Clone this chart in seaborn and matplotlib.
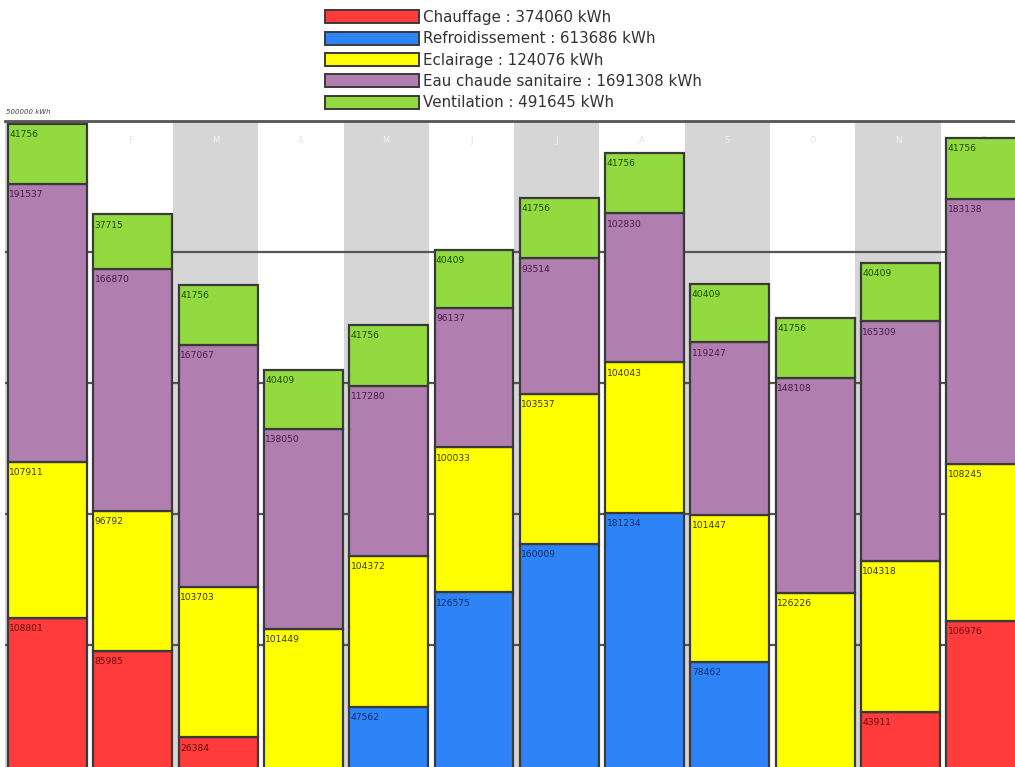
import numpy as np
import pandas as pd
import matplotlib
matplotlib.use("Agg")
import matplotlib.pyplot as plt
from matplotlib.patches import Patch
import seaborn as sns

# ---------------- data ----------------
months = ["Janvier", "Février", "Mars", "Avril", "Mai", "Juin",
          "Juillet", "Août", "Septembre", "Octobre", "Novembre", "Décembre"]
month_initials = ["J", "F", "M", "A", "M", "J", "J", "A", "S", "O", "N", "D"]

chauffage = [108801, 85985, 26384, 0, 0, 0, 0, 0, 0, 0, 43911, 106976]
refroidissement = [0, 0, 0, 0, 47562, 126575, 160009, 181234, 78462, 0, 0, 0]
eclairage = [107911, 96792, 103703, 101449, 104372, 100033, 103537, 104043, 101447, 126226, 104318, 108245]
eau_chaude = [191537, 166870, 167067, 138050, 117280, 96137, 93514, 102830, 119247, 148108, 165309, 183138]
ventilation = [41756, 37715, 41756, 40409, 41756, 40409, 41756, 41756, 40409, 41756, 40409, 41756]

series_names = ["Chauffage", "Refroidissement", "Eclairage", "Eau chaude sanitaire", "Ventilation"]
series_totals = [374060, 613686, 124076, 1691308, 491645]
axis_label = "500000 kWh"

# ---------------- style ----------------
fill_colors = ["#FF3B3B", "#2E84F7", "#FFFF00", "#B07FB0", "#93DA40"]
text_colors = ["#6A0A0A", "#0B2A66", "#3A3A00", "#4A1A4A", "#1E4A00"]
EDGE = "#3A3A3A"
GRAY_COL = "#D6D6D6"
YMAX = 452100

sns.set_theme(style="white")
plt.rcParams["font.family"] = ["DejaVu Sans"]

W, H = 1015, 767
fig = plt.figure(figsize=(W / 100, H / 100), dpi=100)
fig.patch.set_facecolor("white")

ax_top_px, ax_bot_px = 120.7, 775.7
col_w_px = 85.3
shift = 0.03  # bars sit slightly right inside their column
left_px = 2.3 + shift * col_w_px
ax = fig.add_axes([left_px / W, (H - ax_bot_px) / H,
                   12 * col_w_px / W, (ax_bot_px - ax_top_px) / H])
ax.set_facecolor("white")

# alternating column shading
for i in range(len(months)):
    if i % 2 == 0:
        ax.axvspan(i - 0.5 - shift, i + 0.5 - shift, color=GRAY_COL, lw=0, zorder=0)

series = [chauffage, refroidissement, eclairage, eau_chaude, ventilation]
df = pd.DataFrame({"month": months})
bottom = np.zeros(len(months))
bar_w = 0.925
for name, vals, fc, tc in zip(series_names, series, fill_colors, text_colors):
    vals = np.asarray(vals, dtype=float)
    df[name] = vals
    sns.barplot(data=df, x="month", y=name, order=months, color=fc,
                saturation=1, width=bar_w, bottom=bottom, edgecolor=EDGE,
                linewidth=1.6, ax=ax, zorder=3, errorbar=None)
    for i, v in enumerate(vals):
        if v > 0:
            ax.annotate(f"{int(v)}", xy=(i - bar_w / 2, bottom[i] + v),
                        xytext=(1.0, -4.5), textcoords="offset points",
                        ha="left", va="top", fontsize=6.6, color=tc, zorder=5)
    bottom = bottom + vals

# faint month initials at top of each column
for i, m in enumerate(month_initials):
    ax.text(i - shift, 0.97, m, transform=ax.get_xaxis_transform(), ha="center",
            va="center", fontsize=6,
            color="#F4F4F4" if i % 2 == 0 else "#E2E2E2", zorder=1)

ax.set_xlim(-0.5, 11.5)
ax.set_ylim(0, YMAX)
ax.set_yticks(np.linspace(0, YMAX, 6))
ax.set_yticklabels([])
ax.set_xticks([])
ax.set_xlabel("")
ax.set_ylabel("")
ax.yaxis.grid(True, color="#555555", lw=1.6, zorder=0.5)
ax.set_axisbelow(True)
for s in ["left", "right", "bottom"]:
    ax.spines[s].set_visible(False)
ax.spines["top"].set_color("#555555")
ax.spines["top"].set_linewidth(2)
ax.tick_params(left=False, bottom=False)

fig.text(6 / W, 1 - 112 / H, axis_label, fontsize=5, style="italic",
         color="#444444", ha="left", va="center")

handles = [Patch(facecolor=c, edgecolor=EDGE, linewidth=1.4) for c in fill_colors]
labels = [f"{n} : {t} kWh" for n, t in zip(series_names, series_totals)]
leg = fig.legend(handles, labels, loc="upper left",
                 bbox_to_anchor=(325 / W, 1 - 10 / H), frameon=False,
                 fontsize=10.9, handlelength=6.2, handleheight=0.95,
                 handletextpad=0.3, labelspacing=0.42, borderpad=0,
                 borderaxespad=0)
for t in leg.get_texts():
    t.set_color("#333333")

fig.savefig("out.png", dpi=100)
